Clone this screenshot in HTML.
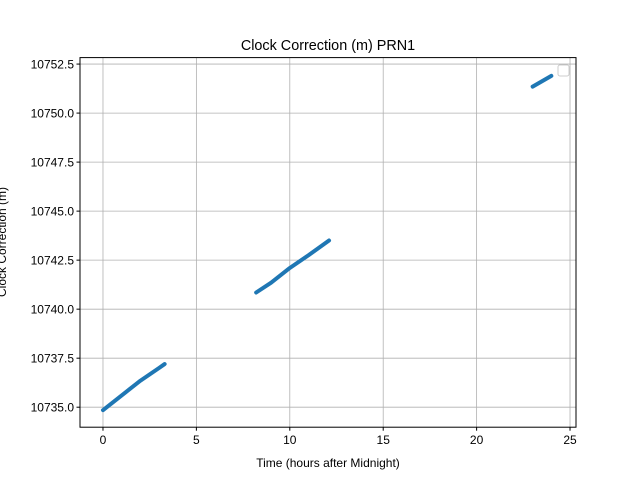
<!DOCTYPE html>
<html><head><meta charset="utf-8"><style>
body{margin:0;background:#fff}
svg{display:block;font-family:"Liberation Sans","DejaVu Sans",sans-serif}
</style></head><body>
<svg id="chart" width="640" height="480">
<rect width="640" height="480" fill="#fff"/>
<g id="grid"></g>
<g id="series"></g>
<rect x="80" y="57.6" width="496" height="369.6" fill="none" stroke="#000" stroke-width="1"/>
<g id="ticks"></g>
<text x="328" y="50" text-anchor="middle" font-size="14.4">Clock Correction (m) PRN1</text>
<text x="328" y="467" text-anchor="middle" font-size="12">Time (hours after Midnight)</text>
<text transform="translate(6,242) rotate(-90)" text-anchor="middle" font-size="12">Clock Correction (m)</text>
<rect x="558" y="65" width="11" height="11" rx="2" fill="#fff" stroke="#ccc"/>
</svg>
<script>
const xTicks=[0,5,10,15,20,25];
const yTicks=[10735.0,10737.5,10740.0,10742.5,10745.0,10747.5,10750.0,10752.5];
const seg1X=[0,1,2,3,3.3];
const seg1Y=[10734.85,10735.6,10736.35,10737.0,10737.2];
const seg2X=[8.2,9,10,11,12.1];
const seg2Y=[10740.85,10741.35,10742.1,10742.75,10743.5];
const seg3X=[23,24];
const seg3Y=[10751.35,10751.9];
const NS='http://www.w3.org/2000/svg';
const X0=80,X1=576,Y0=427.2,Y1=57.6,xmin=-1.23,xmax=25.32,ymin=10733.98,ymax=10752.83;
const sx=v=>X0+(v-xmin)/(xmax-xmin)*(X1-X0);
const sy=v=>Y0-(v-ymin)/(ymax-ymin)*(Y0-Y1);
const grid=document.getElementById('grid'),ticks=document.getElementById('ticks'),series=document.getElementById('series');
function mk(t,a,p){const e=document.createElementNS(NS,t);for(const k in a)e.setAttribute(k,a[k]);p.appendChild(e);return e;}
xTicks.forEach(v=>{const x=sx(v);
 const g=mk('line',{x1:x,x2:x,y1:Y1,y2:Y0,stroke:'#b0b0b0','stroke-width':0.8},grid);
 
 
 const t=mk('line',{x1:x,x2:x,y1:Y0,y2:Y0+3.5,stroke:'#000'},ticks);
 
 
 const l=mk('text',{x:x,y:Y0+17,'text-anchor':'middle','font-size':12},ticks);l.textContent=v;
 
 
});
yTicks.forEach(v=>{const y=sy(v);
 const g=mk('line',{x1:X0,x2:X1,y1:y,y2:y,stroke:'#b0b0b0','stroke-width':0.8},grid);
 
 
 const t=mk('line',{x1:X0-3.5,x2:X0,y1:y,y2:y,stroke:'#000'},ticks);
 
 
 const l=mk('text',{x:X0-6,y:y+4.5,'text-anchor':'end','font-size':12},ticks);l.textContent=v.toFixed(1);
 
 
});
[[seg1X,seg1Y],[seg2X,seg2Y],[seg3X,seg3Y]].forEach((s,i)=>{
 const pts=s[0].map((x,j)=>sx(x)+','+sy(s[1][j])).join(' ');
 const p=mk('polyline',{points:pts,fill:'none',stroke:'#1f77b4','stroke-width':4,'stroke-linecap':'round','stroke-linejoin':'round'},series);
 
 
});
</script>
</body></html>
